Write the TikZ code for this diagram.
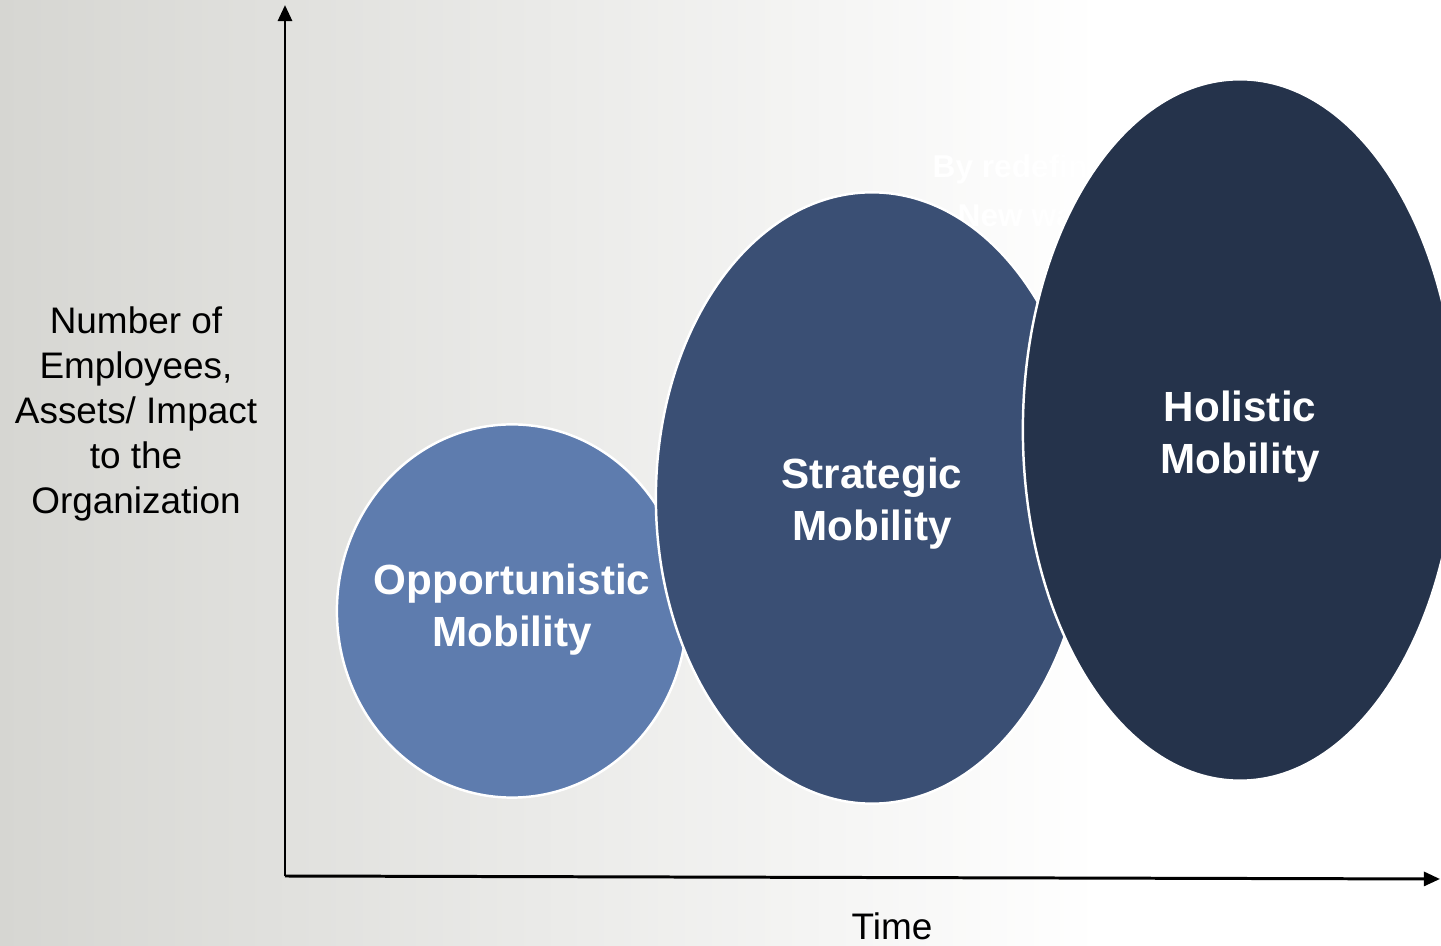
\documentclass[tikz,border=0pt]{standalone}
\usepackage{fontspec}
\setmainfont{Liberation Sans}
\usepackage{tikz}
\usetikzlibrary{shapes.geometric, arrows.meta, positioning}
\usepackage{xcolor}

\definecolor{bgleft}{RGB}{214,214,210}
\definecolor{opcol}{RGB}{94,124,174}
\definecolor{stcol}{RGB}{58,79,116}
\definecolor{hocol}{RGB}{37,51,75}

\tikzset{
  axis/.style={line width=0.85pt, -{Triangle[length=4.6pt,width=4pt]}},
  bubble/.style={ellipse, draw=white, line width=0.7pt, inner sep=0pt},
  bubbletext/.style={text=white, align=center, font=\fontsize{12}{14.8}\selectfont\bfseries},
  axislabel/.style={align=center, font=\fontsize{10.5}{12.8}\selectfont},
  notetext/.style={anchor=base west, inner sep=0pt, text=white, font=\fontsize{9}{11}\selectfont\bfseries}
}

\begin{document}
\begin{tikzpicture}[x=0.01cm, y=-0.01cm]
\useasboundingbox (0,0) rectangle (1441,946);
\clip (0,0) rectangle (1441,946);
\shade [left color=bgleft, right color=white] (0,0) rectangle (1100,946);
\fill [white] (1099,0) rectangle (1441,946);

% white text, mostly hidden behind the bubbles
\node [notetext] (note1) at (932,178) {By redefining};
\node [notetext] (note2) at (957,227) {New ways};

% axes
\coordinate (origin) at (285,876);
\coordinate (ytop) at (285,5);
\coordinate (xend) at (1440,879);
\draw [axis] (origin) -- (ytop);
\draw [axis] (origin) -- (xend);

\node [axislabel] (ylab) at (136,414) {Number of\\Employees,\\Assets/ Impact\\to the\\Organization};
\node [axislabel] (xlab) at (892,926) {Time};

% bubbles, drawn left to right so each one overlaps the last
\node [bubble, fill=opcol, minimum width=3.5cm, minimum height=3.73cm] (opp) at (512,611) {};
\node [bubbletext] (opptext) at (512,610) {Opportunistic\\Mobility};
\node [bubble, fill=stcol, minimum width=4.32cm, minimum height=6.11cm] (strat) at (872,498) {};
\node [bubbletext] (strattext) at (872,504) {Strategic\\Mobility};
\node [bubble, fill=hocol, minimum width=4.34cm, minimum height=7.01cm] (holi) at (1240,430) {};
\node [bubbletext] (holitext) at (1240,437) {Holistic\\Mobility};
\end{tikzpicture}
\end{document}
